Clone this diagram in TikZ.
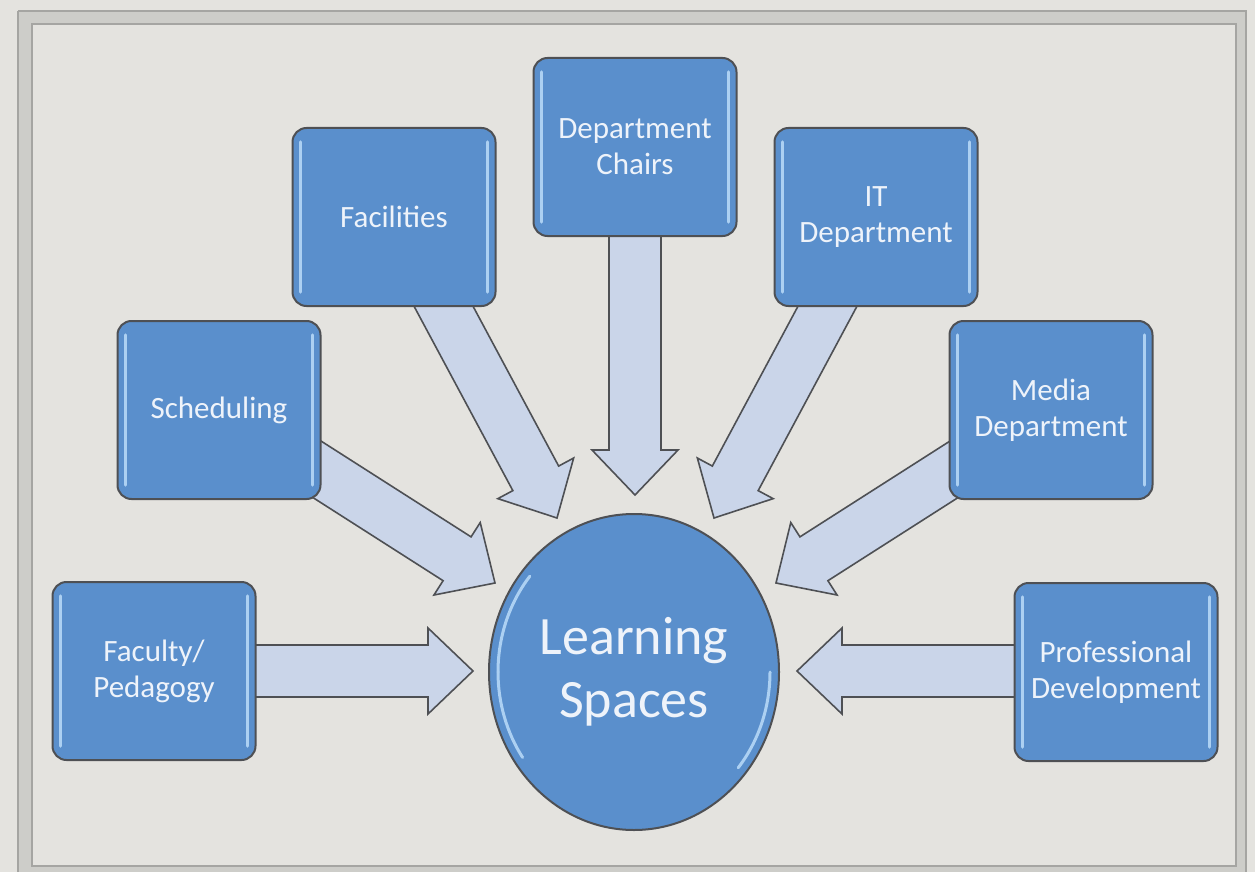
\documentclass[tikz,border=0pt]{standalone}
\usepackage{fontspec}
\setmainfont{Carlito}
\usetikzlibrary{calc,shapes.geometric}
\pgfdeclarelayer{back}
\pgfdeclarelayer{arrows}
\pgfsetlayers{back,arrows,main}
\definecolor{bgc}{RGB}{228,227,223}
\definecolor{bandc}{RGB}{205,205,201}
\definecolor{framec}{RGB}{165,165,162}
\definecolor{boxc}{RGB}{90,143,204}
\definecolor{boxline}{RGB}{78,80,84}
\definecolor{hlc}{RGB}{172,208,242}
\definecolor{arrowc}{RGB}{202,213,233}
\definecolor{txtc}{RGB}{238,243,250}
\newcommand\blockarrow[2]{%
  \begin{pgfonlayer}{arrows}
  \draw[barrow] ($(#1)!26pt!90:(#2)$) -- ($(#2)!45pt!(#1)!26pt!-90:(#1)$)
    -- ($(#2)!45pt!(#1)!43pt!-90:(#1)$) -- (#2)
    -- ($(#2)!45pt!(#1)!43pt!90:(#1)$) -- ($(#2)!45pt!(#1)!26pt!90:(#1)$)
    -- ($(#1)!26pt!-90:(#2)$) -- cycle;
  \end{pgfonlayer}}
\begin{document}
\begin{tikzpicture}[x=1pt,y={(0pt,-1pt)},
  box/.style={draw=boxline, line width=2pt, fill=boxc, rounded corners=14pt,
    minimum width=203pt, minimum height=178pt, inner sep=0pt,
    align=center, text=txtc, font=\fontsize{31pt}{36pt}\selectfont,
    path picture={
      \draw[hlc, line width=3.5pt, line cap=round]
        ([xshift=8pt,yshift=-14pt]path picture bounding box.north west) --
        ([xshift=8pt,yshift=14pt]path picture bounding box.south west);
      \draw[hlc, line width=3.5pt, line cap=round]
        ([xshift=-8pt,yshift=-14pt]path picture bounding box.north east) --
        ([xshift=-8pt,yshift=14pt]path picture bounding box.south east);
    }},
  hub/.style={ellipse, draw=boxline, line width=2pt, fill=boxc,
    minimum width=290pt, minimum height=316pt, inner sep=0pt,
    align=center, text=txtc, font=\fontsize{54pt}{63pt}\selectfont},
  barrow/.style={draw=boxline, line width=1.6pt, fill=arrowc, line join=miter},
  hlarc/.style={hlc, line width=3pt, line cap=round}]
\useasboundingbox (0,0) rectangle (1255,872);
\begin{pgfonlayer}{back}
  \fill[bgc] (0,0) rectangle (1255,872);
  \fill[bandc] (18,11) rectangle (1246,872);
  \fill[bgc] (32,24) rectangle (1236,866);
  \draw[framec, line width=2pt] (18,11) -- (1246,11) -- (1246,872);
  \draw[framec, line width=2pt] (18,872) -- (18,11);
  \draw[framec, line width=2pt] (32,24) rectangle (1236,866);
\end{pgfonlayer}

\node[box] (fac) at (154,671) {Faculty/\\Pedagogy};
\node[box] (sch) at (219,410) {Scheduling};
\node[box] (fcl) at (394,217) {Facilities};
\node[box] (chr) at (635,147) {Department\\Chairs};
\node[box] (itd) at (876,217) {IT\\Department};
\node[box] (med) at (1051,410) {Media\\Department};
\node[box] (pro) at (1116,672) {Professional\\Development};
\node[hub] (ls) at (634,672) {Learning\\Spaces};
\draw[hlarc] ($(ls.center)+(-136,0)$) arc[start angle=180, end angle=140, x radius=136pt, y radius=149pt];
\draw[hlarc] ($(ls.center)+(-136,0)$) arc[start angle=180, end angle=215, x radius=136pt, y radius=149pt];
\draw[hlarc] ($(ls.center)+(136,0)$) arc[start angle=0, end angle=-40, x radius=136pt, y radius=149pt];

\coordinate (sFac) at (230,671);   \coordinate (tFac) at (473,671);
\coordinate (sSch) at (293,454);   \coordinate (tSch) at (495,583);
\coordinate (sFcl) at (430,281);   \coordinate (tFcl) at (557,518);
\coordinate (sChr) at (635,220);   \coordinate (tChr) at (635,495);
\coordinate (sItd) at (841,281);   \coordinate (tItd) at (714,518);
\coordinate (sMed) at (978,454);   \coordinate (tMed) at (776,583);
\coordinate (sPro) at (1040,671);  \coordinate (tPro) at (797,671);

\blockarrow{sFac}{tFac}
\blockarrow{sSch}{tSch}
\blockarrow{sFcl}{tFcl}
\blockarrow{sChr}{tChr}
\blockarrow{sItd}{tItd}
\blockarrow{sMed}{tMed}
\blockarrow{sPro}{tPro}
\end{tikzpicture}
\end{document}
